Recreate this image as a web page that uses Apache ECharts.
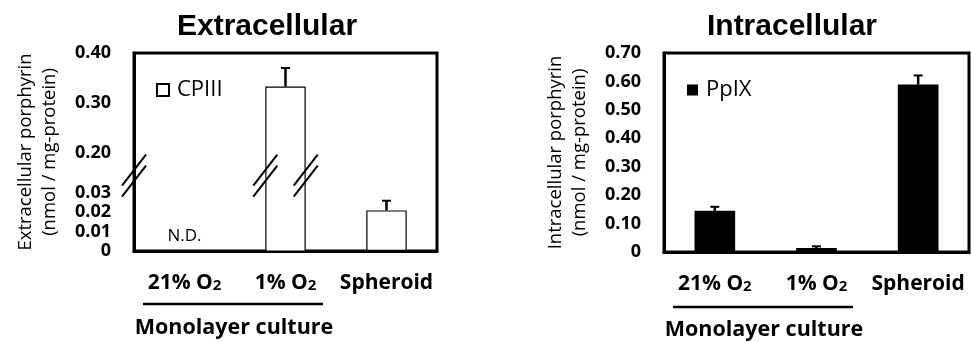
<!DOCTYPE html>
<html>
<head>
<meta charset="utf-8">
<script src="https://cdn.jsdelivr.net/npm/echarts@6/dist/echarts.min.js"></script>
<style>
html, body { margin: 0; padding: 0; background: #fff; }
#chart { width: 971px; height: 342px; }
</style>
</head>
<body>
<div id="chart"></div>
<script>
// groups on the x axis
var categories = ['21% O2', '1% O2', 'Spheroid'];

// extracellular CPIII (nmol / mg-protein); 21% O2 was N.D.
var extraValues = [0, 0.333, 0.021];
var extraErrors = [0, 0.037, 0.005];

// intracellular PpIX (nmol / mg-protein)
var intraValues = [0.145, 0.014, 0.589];
var intraErrors = [0.014, 0.006, 0.032];

// tick labels of the broken left axis (lower part / upper part)
var lowTicks = [0, 0.01, 0.02, 0.03];
var highTicks = [0.2, 0.3, 0.4];

// broken axis: two value scales sharing the same grid
var lowMax = 0.1024;
var highMin = 0.004, highMax = 0.4;
var splitAt = 0.05;      // values above go on the upper scale
var breakAt = 0.039;     // where the // marks sit (lower scale)

var FONT = "'Open Sans', sans-serif";

function lowPart(v) { return v < splitAt ? v : '-'; }
function highPart(v) { return v >= splitAt ? v : '-'; }

function tickText(v) {
    return v === 0 ? '0' : v.toFixed(2);
}

function catText(v) {
    if (/O2$/.test(v)) return '{n|' + v.slice(0, -1) + '}{s|2}';
    return '{n|' + v + '}';
}

function errorBar(params, api) {
    var x = api.value(0), v = api.value(1), e = api.value(2);
    var base = api.coord([x, v]);
    var top = api.coord([x, v + e]);
    var cap = 4.5;
    return {
        type: 'group',
        children: [
            { type: 'line', shape: { x1: base[0], y1: base[1], x2: top[0], y2: top[1] },
              style: { stroke: '#000', lineWidth: 2.5 } },
            { type: 'line', shape: { x1: top[0] - cap, y1: top[1], x2: top[0] + cap, y2: top[1] },
              style: { stroke: '#000', lineWidth: 2 } }
        ]
    };
}

function breakMarks(params, api) {
    var c = api.coord([api.value(0), api.value(1)]);
    var half = api.size([1, 0])[0] * 0.4 / 2;
    var xs = [params.coordSys.x, c[0] - half, c[0] + half];
    var kids = [];
    xs.forEach(function (x) {
        var y = c[1];
        kids.push({ type: 'line', shape: { x1: x - 12, y1: y + 10, x2: x + 12, y2: y - 21 },
                    style: { stroke: '#000', lineWidth: 2 } });
        kids.push({ type: 'line', shape: { x1: x - 12, y1: y + 21, x2: x + 12, y2: y - 10 },
                    style: { stroke: '#000', lineWidth: 2 } });
    });
    return { type: 'group', children: kids };
}

function errData(values, errors, pick) {
    var out = [];
    values.forEach(function (v, i) {
        if (errors[i] > 0 && pick(v) !== '-') out.push([i, v, errors[i]]);
    });
    return out;
}

function xAxisOf(gridIndex) {
    return {
        type: 'category',
        gridIndex: gridIndex,
        data: categories,
        axisLine: { lineStyle: { color: '#000', width: 3 } },
        axisTick: { inside: true, length: 6, lineStyle: { color: '#000', width: 3 } },
        axisLabel: {
            interval: 0,
            margin: 22,
            formatter: catText,
            rich: {
                n: { fontFamily: FONT, fontSize: 21, fontWeight: 'bold', color: '#000', verticalAlign: 'bottom' },
                s: { fontFamily: FONT, fontSize: 15, fontWeight: 'bold', color: '#000', verticalAlign: 'bottom', padding: [0, 0, 1, 0] }
            }
        },
        splitLine: { show: false }
    };
}

var yLabel = { fontFamily: FONT, fontSize: 18, fontWeight: 'bold', color: '#000', margin: 23, formatter: tickText };
var yTick = { inside: true, length: 8, lineStyle: { color: '#000', width: 3 } };
var yName = { fontFamily: FONT, fontSize: 18.5, lineHeight: 24, color: '#000' };
var legendText = { fontFamily: FONT, fontSize: 22, color: '#000', padding: [0, 0, 0, 3] };

var myChart = echarts.init(document.getElementById('chart'));

var option = {
    animation: false,
    grid: [
        { left: 134, width: 303, top: 53, bottom: 91, show: true, borderColor: '#000', borderWidth: 3 },
        { left: 664, right: 2, top: 53, bottom: 90, show: true, borderColor: '#000', borderWidth: 3 }
    ],
    legend: [
        { data: ['CPIII'], left: 156, top: 79, padding: 0, icon: 'rect', itemWidth: 12, itemHeight: 12,
          textStyle: legendText },
        { data: ['PpIX'], left: 687, top: 79, padding: 0, icon: 'rect', itemWidth: 11, itemHeight: 11,
          textStyle: legendText }
    ],
    xAxis: [xAxisOf(0), xAxisOf(1)],
    yAxis: [
        {   // lower part of the broken axis
            type: 'value', gridIndex: 0, position: 'left', min: 0, max: lowMax,
            axisLine: { show: true, lineStyle: { color: '#000', width: 3 } },
            axisTick: Object.assign({ customValues: lowTicks }, yTick),
            axisLabel: Object.assign({ customValues: lowTicks }, yLabel),
            splitLine: { show: false },
            name: 'Extracellular porphyrin\n(nmol / mg-protein)',
            nameLocation: 'middle', nameRotate: 90, nameGap: 72, nameTextStyle: yName
        },
        {   // upper part of the broken axis
            type: 'value', gridIndex: 0, position: 'left', min: highMin, max: highMax,
            axisLine: { show: false },
            axisTick: Object.assign({ customValues: highTicks }, yTick),
            axisLabel: Object.assign({ customValues: highTicks }, yLabel),
            splitLine: { show: false }
        },
        {
            type: 'value', gridIndex: 1, min: 0, max: 0.7, interval: 0.1,
            axisLine: { show: true, lineStyle: { color: '#000', width: 3 } },
            axisTick: yTick,
            axisLabel: yLabel,
            splitLine: { show: false },
            name: 'Intracellular porphyrin\n(nmol / mg-protein)',
            nameLocation: 'middle', nameRotate: 90, nameGap: 72, nameTextStyle: yName
        }
    ],
    series: [
        {
            name: 'CPIII', type: 'bar', xAxisIndex: 0, yAxisIndex: 0,
            data: extraValues.map(lowPart), barWidth: '40%',
            itemStyle: { color: '#fff', borderColor: '#000', borderWidth: 1.2 },
            label: {
                show: true, position: 'top', distance: 6, color: '#000',
                fontFamily: FONT, fontSize: 17,
                formatter: function (p) { return p.value === 0 ? 'N.D.' : ''; }
            }
        },
        {
            name: 'CPIII', type: 'bar', xAxisIndex: 0, yAxisIndex: 1,
            data: extraValues.map(highPart), barWidth: '40%', barGap: '-100%',
            itemStyle: { color: '#fff', borderColor: '#000', borderWidth: 1.2 }
        },
        {
            type: 'custom', xAxisIndex: 0, yAxisIndex: 0, z: 5,
            renderItem: errorBar, data: errData(extraValues, extraErrors, lowPart)
        },
        {
            type: 'custom', xAxisIndex: 0, yAxisIndex: 1, z: 5,
            renderItem: errorBar, data: errData(extraValues, extraErrors, highPart)
        },
        {
            type: 'custom', xAxisIndex: 0, yAxisIndex: 0, z: 6,
            renderItem: breakMarks,
            data: extraValues.map(function (v, i) { return [i, breakAt, v]; })
                .filter(function (d) { return d[2] >= splitAt; })
        },
        {
            name: 'PpIX', type: 'bar', xAxisIndex: 1, yAxisIndex: 2,
            data: intraValues, barWidth: '40%',
            itemStyle: { color: '#000' }
        },
        {
            type: 'custom', xAxisIndex: 1, yAxisIndex: 2, z: 5,
            renderItem: errorBar, data: errData(intraValues, intraErrors, function (v) { return v; })
        }
    ],
    graphic: [
        { type: 'text', x: 267, y: 27, style: { text: 'Extracellular', align: 'center', verticalAlign: 'middle',
          font: 'bold 30px "Liberation Sans", Arial, sans-serif', fill: '#000' } },
        { type: 'text', x: 792, y: 27, style: { text: 'Intracellular', align: 'center', verticalAlign: 'middle',
          font: 'bold 30px "Liberation Sans", Arial, sans-serif', fill: '#000' } },
        { type: 'line', shape: { x1: 143, y1: 304, x2: 323, y2: 304 }, style: { stroke: '#000', lineWidth: 2.5 } },
        { type: 'line', shape: { x1: 673, y1: 307, x2: 853, y2: 307 }, style: { stroke: '#000', lineWidth: 2.5 } },
        { type: 'text', x: 234, y: 328, style: { text: 'Monolayer culture', align: 'center', verticalAlign: 'middle',
          font: "bold 21.5px 'Open Sans', sans-serif", fill: '#000' } },
        { type: 'text', x: 764, y: 330, style: { text: 'Monolayer culture', align: 'center', verticalAlign: 'middle',
          font: "bold 21.5px 'Open Sans', sans-serif", fill: '#000' } }
    ]
};

myChart.setOption(option);
</script>
</body>
</html>
